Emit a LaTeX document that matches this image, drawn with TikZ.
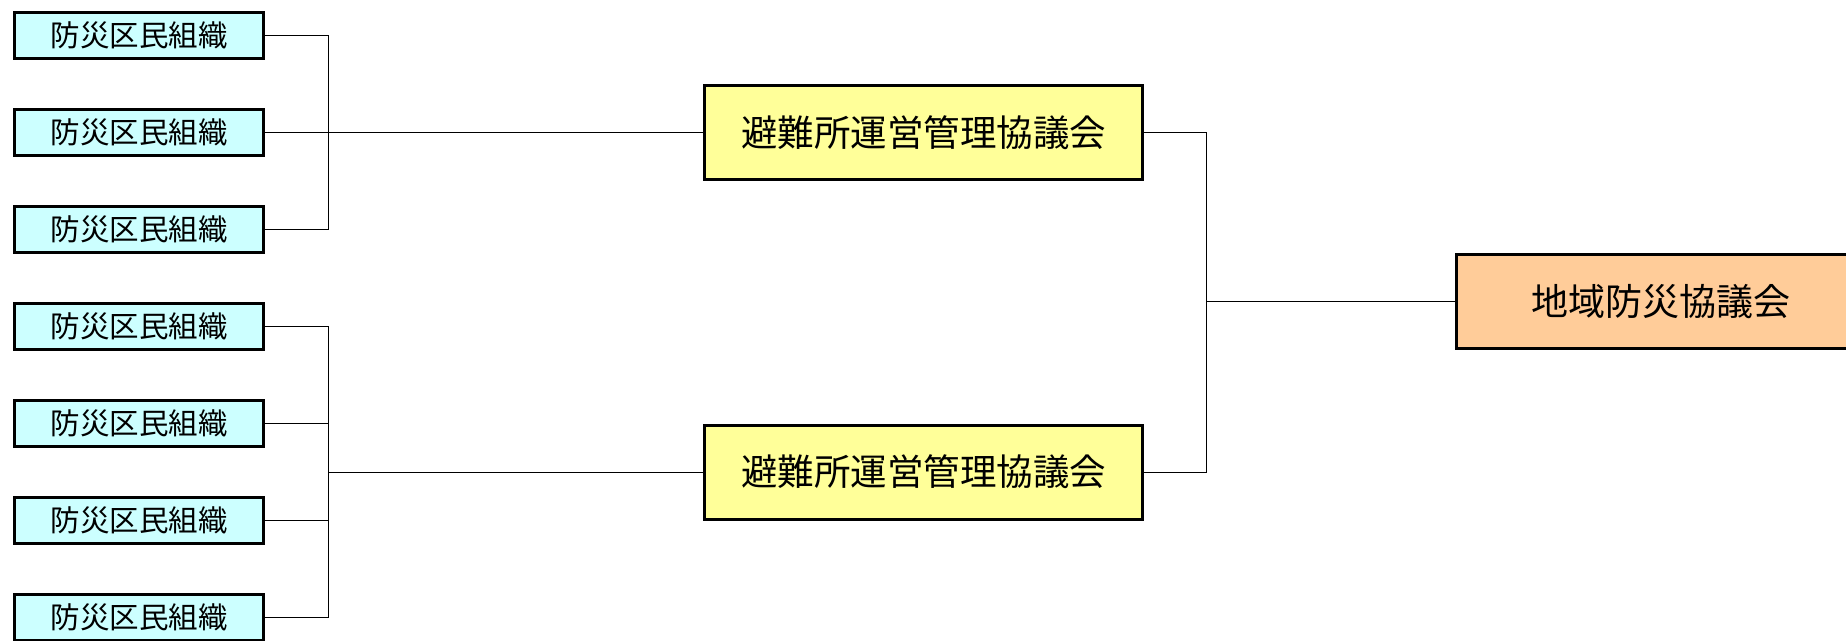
\documentclass[tikz,border=0pt]{standalone}
\usepackage{fontspec}
\newfontfamily\jp{Noto Sans CJK JP}
\definecolor{bluefill}{HTML}{CCFFFF}
\definecolor{yellowfill}{HTML}{FFFF99}
\definecolor{orangefill}{HTML}{FFCC99}
\tikzset{
  x=1pt,y=-1pt,
  box/.style={draw=black,line width=3pt,inner sep=0pt,align=center},
  orgbox/.style={box,fill=bluefill,minimum width=249pt,minimum height=46pt,font=\jp\fontsize{29.5pt}{32pt}\selectfont},
  shelter/.style={box,fill=yellowfill,minimum width=438pt,minimum height=94pt,font=\jp\fontsize{36.5pt}{40pt}\selectfont},
  council/.style={box,fill=orangefill,minimum width=409pt,minimum height=94pt,font=\jp\fontsize{37pt}{40pt}\selectfont},
  link/.style={draw=black,line width=1pt}
}
\begin{document}
\begin{tikzpicture}
\useasboundingbox (0,0) rectangle (1846,640);
\clip (0,0) rectangle (1846,640);
\fill[white] (0,0) rectangle (1846,640);
\node[orgbox] (b1) at (139,35.5) {防災区民組織};
\node[orgbox] (b2) at (139,132.5) {防災区民組織};
\node[orgbox] (b3) at (139,229.5) {防災区民組織};
\node[orgbox] (b4) at (139,326.5) {防災区民組織};
\node[orgbox] (b5) at (139,423.5) {防災区民組織};
\node[orgbox] (b6) at (139,520.5) {防災区民組織};
\node[orgbox] (b7) at (139,617.5) {防災区民組織};
\node[shelter] (y1) at (923.5,132.5) {避難所運営管理協議会};
\node[shelter] (y2) at (923.5,472) {避難所運営管理協議会};
\node[council] (o) at (1661,301.5) {地域防災協議会};
\coordinate (jx) at (328,0);
\coordinate (rx) at (1206,0);
% top group
\draw[link] (b1.east) -- (b1.east -| jx) -- (b3.east -| jx) -- (b3.east);
\draw[link] (b2.east) -- (y1.west);
% bottom group
\draw[link] (b4.east) -- (b4.east -| jx) -- (b7.east -| jx) -- (b7.east);
\draw[link] (b5.east) -- (b5.east -| jx);
\draw[link] (b6.east) -- (b6.east -| jx);
\draw[link] (y2.west -| jx) -- (y2.west);
% right bracket
\draw[link] (y1.east) -- (y1.east -| rx) -- (y2.east -| rx) -- (y2.east);
\draw[link] (o.west -| rx) -- (o.west);
\end{tikzpicture}
\end{document}
